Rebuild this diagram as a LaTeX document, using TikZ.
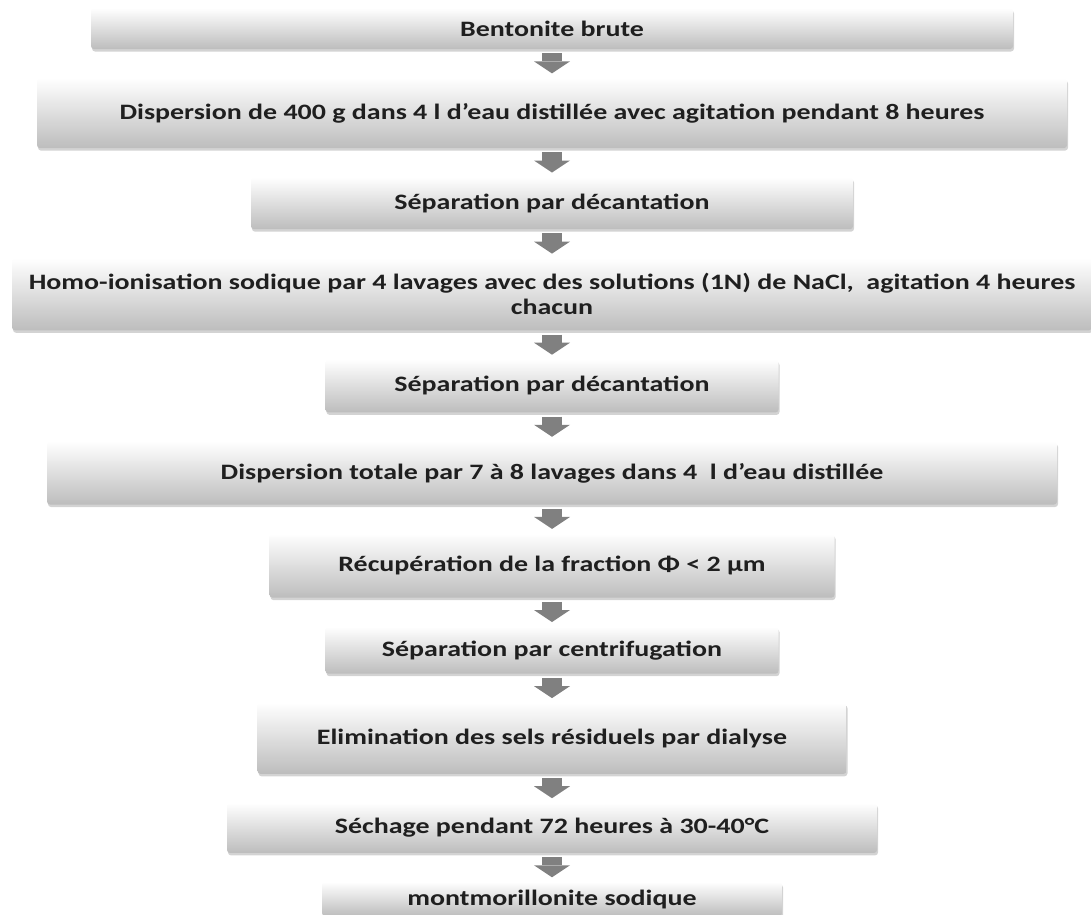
\documentclass[tikz,border=0pt]{standalone}
\usepackage{fontspec}
\setmainfont{Carlito}[FakeStretch=1.27]
\usetikzlibrary{positioning,shadows,arrows.meta}

\tikzset{
  etape/.style={rectangle, rounded corners=3pt, inner sep=0pt,
    top color=white, middle color=black!7, bottom color=black!26,
    drop shadow={opacity=0.35, shadow xshift=1pt, shadow yshift=-2.5pt},
    text=black!88, align=center,
    font=\bfseries\fontsize{22}{25}\selectfont},
  fleche/.style={line width=20pt, black!50, shorten <=4pt, shorten >=4.5pt,
    -{Triangle[length=12pt, width=36pt, line width=0pt]}}
}

\begin{document}
\begin{tikzpicture}[x=1pt, y=-1pt, node distance=28.7pt]
	\useasboundingbox (0,0) rectangle (1091,914);

	\node[etape, minimum width=922pt, minimum height=41pt] (brute) at (552,28.5) {Bentonite brute};
	\node[etape, minimum width=1030pt, minimum height=70pt, below=of brute] (disp)
		{Dispersion de 400 g dans 4 l d’eau distillée avec agitation pendant 8 heures};
	\node[etape, minimum width=602pt, minimum height=52pt, below=of disp] (sep1) {Séparation par décantation};
	\node[etape, minimum width=1080pt, minimum height=72pt, below=of sep1] (homo)
		{Homo-ionisation sodique par 4 lavages avec des solutions (1N) de NaCl,\ \ agitation 4 heures\\chacun};
	\node[etape, minimum width=453pt, minimum height=53pt, below=of homo] (sep2) {Séparation par décantation};
	\node[etape, minimum width=1010pt, minimum height=63pt, below=of sep2] (disptot)
		{Dispersion totale par 7 à 8 lavages dans 4\ \ l d’eau distillée};
	\node[etape, minimum width=565pt, minimum height=64pt, below=of disptot] (recup)
		{Récupération de la fraction Φ < 2 µm};
	\node[etape, minimum width=453pt, minimum height=47pt, below=of recup] (centri) {Séparation par centrifugation};
	\node[etape, minimum width=589pt, minimum height=71pt, below=of centri] (elim)
		{Elimination des sels résiduels par dialyse};
	\node[etape, minimum width=650pt, minimum height=50pt, below=of elim] (sech)
		{Séchage pendant 72 heures à 30-40°C};
	\node[etape, minimum width=460pt, minimum height=34pt, below=of sech] (mmt) {montmorillonite sodique};

	% fleches
	\draw[fleche] (brute.south) -- (disp.north);
	\draw[fleche] (disp.south) -- (sep1.north);
	\draw[fleche] (sep1.south) -- (homo.north);
	\draw[fleche] (homo.south) -- (sep2.north);
	\draw[fleche] (sep2.south) -- (disptot.north);
	\draw[fleche] (disptot.south) -- (recup.north);
	\draw[fleche] (recup.south) -- (centri.north);
	\draw[fleche] (centri.south) -- (elim.north);
	\draw[fleche] (elim.south) -- (sech.north);
	\draw[fleche] (sech.south) -- (mmt.north);
\end{tikzpicture}
\end{document}
